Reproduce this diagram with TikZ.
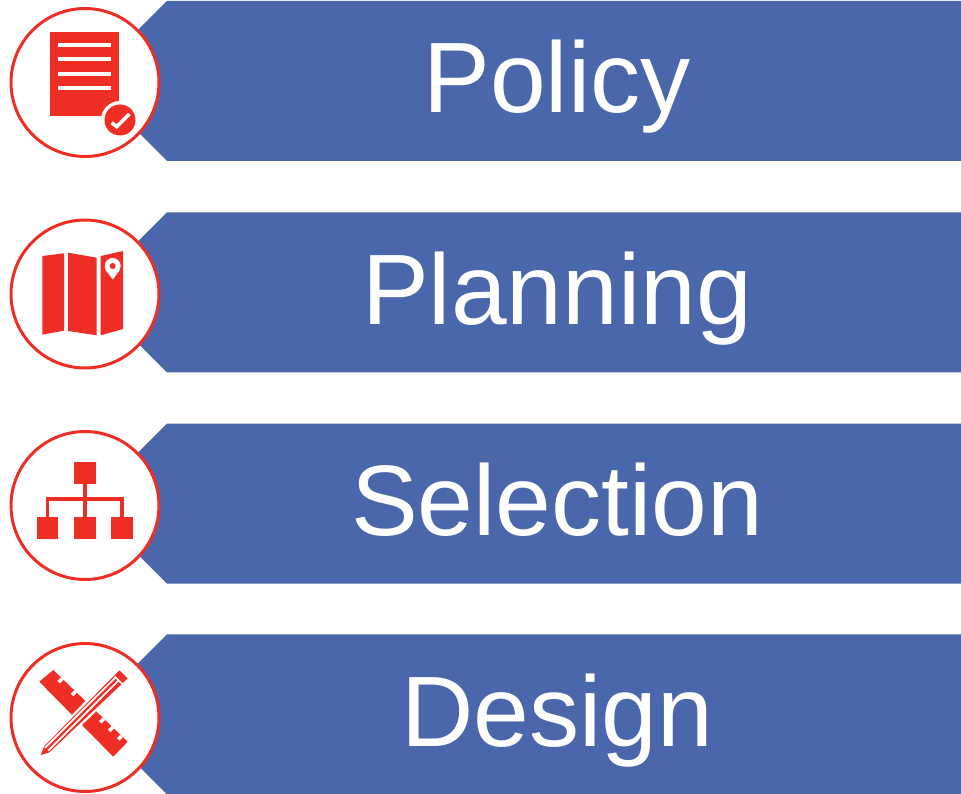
\documentclass[tikz,border=0pt]{standalone}
\usepackage{fontspec}
\setmainfont{Liberation Sans}
\usetikzlibrary{calc}
\definecolor{bannerblue}{HTML}{4A67AC}
\definecolor{iconred}{HTML}{EE2E24}

\begin{document}
\begin{tikzpicture}[x=0.02cm, y=-0.02cm]
    \tikzstyle{banner} = [fill=bannerblue]
    \tikzstyle{label} = [text=white, font=\fontsize{57pt}{60pt}\selectfont, anchor=base]
    \tikzstyle{ring} = [draw=iconred, line width=0.06cm, fill=white, circle, minimum size=2.96cm, inner sep=0pt]
    \tikzstyle{icon} = [fill=iconred]
    \tikzstyle{gap} = [draw=white, line width=0.08cm]
    \tikzstyle{orgbox} = [fill=iconred, minimum size=0.44cm, inner sep=0pt]
    \tikzstyle{orgline} = [draw=iconred, line width=0.08cm]
    \useasboundingbox (0, 0) rectangle (961, 794);
    \foreach \name/\title/\ymid/\ybase/\ycirc in {policy/Policy/81/113/82.5, planning/Planning/292.3/324/294, selection/Selection/503.5/535/505.5, design/Design/714.3/746/717.5} {
        \fill[banner] (87, \ymid) -- (167, \ymid - 80) -- (961, \ymid - 80) -- (961, \ymid + 80) -- (167, \ymid + 80) -- cycle;
        \node[ring] (\name ring) at (85, \ycirc) {};
        \node[label] (\name) at (557, \ybase) {\title};
    }
    % document
    \fill[icon] (49.5, 31.7) rectangle (118.7, 116);
    \foreach \y in {45, 59.5, 73.7, 88} {
        \draw[gap] (58, \y) -- (110.7, \y);
    }
    \fill[white] (120, 120) circle (19);
    \fill[icon] (120, 120) circle (15.5);
    \draw[white, line width=0.07cm] (111.7, 122.7) -- (116.7, 126.7) -- (129.3, 114);
    % map
    \fill[icon] (42.3, 256) -- (64, 253.3) -- (64, 330.7) -- (42.3, 334.7) -- cycle;
    \fill[icon] (68, 252.7) -- (96.7, 257.7) -- (96.7, 335.3) -- (68, 331) -- cycle;
    \fill[icon] (100.7, 256) -- (123, 251) -- (123, 329) -- (100.7, 335.3) -- cycle;
    \fill[white] (112.7, 266) circle (8);
    \fill[white] (105.6, 270) -- (119.8, 270) -- (112.7, 279.5) -- cycle;
    \fill[icon] (112.7, 266) circle (3);
    % hierarchy
    \node[orgbox] (topbox) at (85.3, 473) {};
    \node[orgbox] (leftbox) at (47.5, 528) {};
    \node[orgbox] (midbox) at (85.3, 528) {};
    \node[orgbox] (rightbox) at (121.7, 528) {};
    \coordinate (bus) at (85.3, 499);
    \draw[orgline] (topbox) -- (midbox);
    \draw[orgline] (leftbox) |- (bus) -| (rightbox);
    % ruler and pencil
    \coordinate (rulera) at (53.3, 670);
    \coordinate (rulerb) at (127.7, 741.7);
    \fill[icon] (39.3, 681.7) -- (rulera) -- (rulerb) -- (113.3, 756.7) -- cycle;
    \foreach \t in {0.12, 0.3, 0.45, 0.68, 0.8, 0.92} {
        \draw[white, line width=0.07cm] ($(rulera)!\t!(rulerb)$) -- ++(-3.5, 3.5);
    }
    \filldraw[icon, draw=white, line width=0.045cm] (38.5, 757) -- (43.5, 745) -- (119.5, 668.5) -- (129.5, 678.5) -- (50, 753.5) -- cycle;
    \draw[white, line width=0.035cm] (45.2, 747.7) -- (115.5, 677.5);
    \draw[white, line width=0.035cm] (48.2, 750.7) -- (118.5, 680.5);
    \draw[white, line width=0.03cm] (114.8, 676.6) -- (123.3, 685);
\end{tikzpicture}
\end{document}
